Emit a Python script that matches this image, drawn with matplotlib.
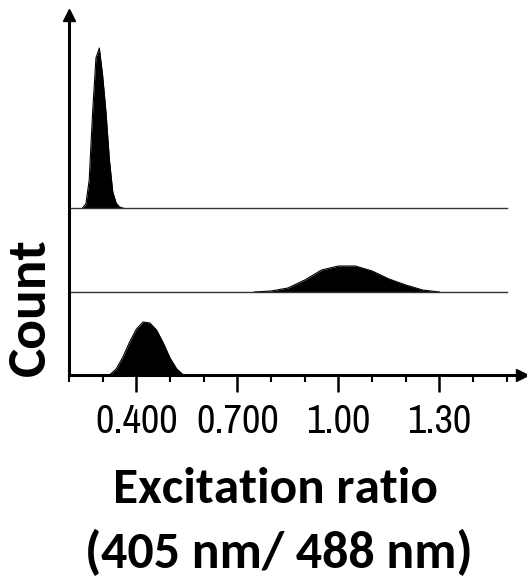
"""Stacked excitation-ratio histograms (405/488 nm), three samples."""
import numpy as np
import matplotlib
matplotlib.use("Agg")
import matplotlib.pyplot as plt
from matplotlib.ticker import MultipleLocator

# bottom track
bottom_x = [0.32, 0.34, 0.36, 0.38, 0.40, 0.42, 0.44, 0.46, 0.48, 0.50, 0.52, 0.54]
bottom_counts = [0, 6, 18, 33, 46, 53, 52, 45, 32, 17, 6, 0]

# middle track
middle_x = [0.75, 0.80, 0.85, 0.90, 0.95, 1.00, 1.05, 1.10, 1.15, 1.20, 1.25, 1.30]
middle_counts = [0, 1, 4, 12, 22, 26, 26, 21, 13, 7, 2, 0]

# top track
top_x = [0.24, 0.25, 0.26, 0.27, 0.28, 0.29, 0.30, 0.31, 0.32, 0.33, 0.34, 0.35, 0.36]
top_counts = [0, 4, 28, 95, 150, 160, 132, 95, 48, 16, 5, 1, 0]

track_offsets = [0, 83, 167]
major_ticks = [0.4, 0.7, 1.0, 1.3]
tick_labels = ["0.400", "0.700", "1.00", "1.30"]

XMIN, XMAX, XEND = 0.2, 1.545, 1.5

narrow = ["Liberation Sans Narrow", "Archivo Narrow", "DejaVu Sans"]
label_font = ["Carlito", "Lato", "DejaVu Sans"]

fig = plt.figure(figsize=(5.27, 5.77), dpi=100)
ax = fig.add_axes([69 / 527, 1 - 375 / 577, 453 / 527, 360 / 577])

tracks = [(bottom_x, bottom_counts), (middle_x, middle_counts), (top_x, top_counts)]
for (xs, cs), off in zip(tracks, track_offsets):
    xs = np.asarray(xs)
    cs = np.asarray(cs) + off
    ax.fill_between(xs, off, cs, color="black", lw=0)
    ax.plot(xs, cs, color="black", lw=0.8)
    if off > 0:
        ax.plot([XMIN, XEND], [off, off], color="#333333", lw=1.0)

ax.set_xlim(XMIN, XMAX)
ax.set_ylim(0, 360)

for side in ("top", "right"):
    ax.spines[side].set_visible(False)
for side in ("left", "bottom"):
    ax.spines[side].set_linewidth(2.2)

# arrow heads on the axes
ax.plot(1, 0, ">", color="black", ms=9, transform=ax.transAxes, clip_on=False)
ax.plot(0, 1, "^", color="black", ms=9, transform=ax.transAxes, clip_on=False)

ax.set_yticks([])
ax.xaxis.set_minor_locator(MultipleLocator(0.1))
ax.tick_params(axis="x", which="major", length=12, width=1.8, pad=8)
ax.tick_params(axis="x", which="minor", length=5, width=1.5)
ax.set_xticks(major_ticks)
ax.set_xticklabels(tick_labels, fontsize=28, family=narrow)

t_count = fig.text(30 / 527, 1 - 307 / 577, "Count", rotation=90, ha="center", va="center",
                   fontsize=36, fontweight="bold", family=label_font)
t_exc = fig.text(275 / 527, 1 - 503 / 577, "Excitation ratio", ha="center", va="baseline",
                 fontsize=36, fontweight="bold", family=label_font)
t_nm = fig.text(279 / 527, 1 - 568 / 577, "(405 nm/ 488 nm)", ha="center", va="baseline",
                fontsize=36, fontweight="bold", family=label_font)

# fit text sizes to the widths seen in the original figure
fig.canvas.draw()
r = fig.canvas.get_renderer()
fits = [(t_exc, 325, "width"), (t_nm, 388, "width"), (t_count, 138, "height")]
for t, target, dim in fits:
    bb = t.get_window_extent(r)
    t.set_fontsize(t.get_fontsize() * target / getattr(bb, dim))
lbl = ax.get_xticklabels()[0]
scale = 82 / lbl.get_window_extent(r).width
for lb in ax.get_xticklabels():
    lb.set_fontsize(lb.get_fontsize() * scale)

fig.savefig("out.png", dpi=100)
